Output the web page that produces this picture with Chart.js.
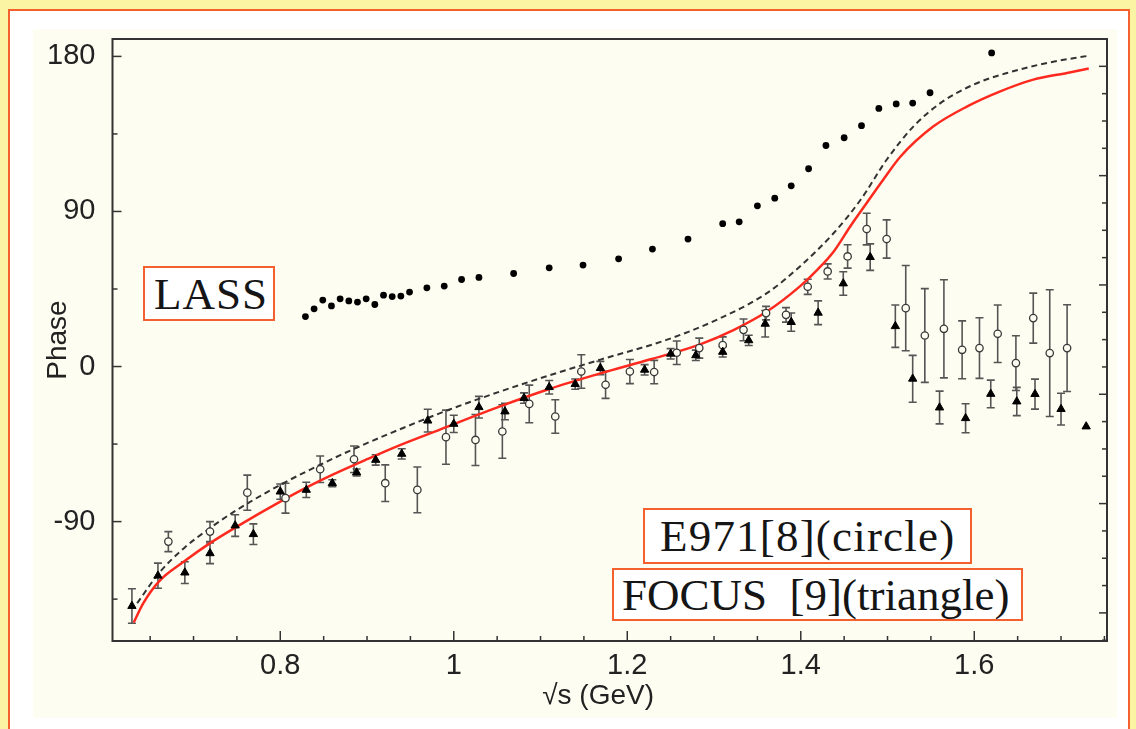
<!DOCTYPE html>
<html>
<head>
<meta charset="utf-8">
<script src="https://cdn.jsdelivr.net/npm/chart.js@4.4.1/dist/chart.umd.min.js"></script>
<style>
  html, body { margin: 0; padding: 0; }
  body { width: 1136px; height: 729px; background: #fbf4a2; position: relative; overflow: hidden; }
  .frame { position: absolute; left: 8px; top: 9px; width: 1122px; height: 740px; border: 2px solid #f4602e; background: #fff; box-sizing: border-box; }
  .panel { position: absolute; left: 33px; top: 29px; width: 1084px; height: 689px; background: #fdfdf1; }
  #phase { position: absolute; left: 0; top: 0; }
  .tag { position: absolute; background: #fff; border: 2px solid #f4602e; box-sizing: border-box;
         font-family: "Liberation Serif", "Times New Roman", serif; font-size: 45px; color: #151515;
         white-space: pre; display: flex; align-items: center; }
</style>
</head>
<body>
<div class="frame"></div>
<div class="panel"><canvas id="phase" width="1084" height="689"></canvas></div>
<div class="tag" style="left:143px; top:266px; width:132px; height:55px; padding-left:9px; letter-spacing:1px;">LASS</div>
<div class="tag" style="left:643px; top:508px; width:329px; height:56px; padding-left:15px; letter-spacing:1.2px;">E971[8](circle)</div>
<div class="tag" style="left:612px; top:568px; width:411px; height:53px; padding-left:8px;">FOCUS  [9](triangle)</div>

<script>
/* global Chart */
(function () {
    'use strict';

    /* ── Data ─────────────────────────────────────────────────────────── */

    const lassX = [0.829, 0.839, 0.849, 0.859, 0.869, 0.879, 0.889, 0.899, 0.909, 0.919, 0.929, 0.939, 0.949,
                   0.969, 0.989, 1.009, 1.029, 1.069, 1.110, 1.149, 1.190, 1.229, 1.270, 1.310, 1.329, 1.350,
                   1.370, 1.389, 1.409, 1.429, 1.450, 1.470, 1.490, 1.510, 1.529, 1.549, 1.620];
    const lassY = [29.0, 33.5, 38.6, 35.2, 39.3, 38.1, 37.4, 39.3, 36.0, 41.4, 40.6, 40.9, 43.2,
                   45.7, 46.7, 50.5, 51.7, 54.0, 57.3, 58.9, 62.5, 68.2, 74.0, 82.9, 84.0, 93.3,
                   97.7, 104.9, 114.8, 128.3, 132.8, 139.8, 149.8, 152.4, 152.9, 158.9, 182.0];

    const e971X   = [0.671, 0.719, 0.762, 0.806, 0.846, 0.885, 0.921, 0.958, 0.991, 1.025, 1.056, 1.087, 1.117,
                     1.147, 1.175, 1.203, 1.231, 1.257, 1.283, 1.310, 1.334, 1.360, 1.383, 1.408, 1.431, 1.454,
                     1.476, 1.499, 1.521, 1.543, 1.565, 1.586, 1.606, 1.627, 1.648, 1.668, 1.687, 1.707];
    const e971Y   = [-101.6, -95.8, -73.2, -76.4, -59.6, -53.8, -67.7, -71.6, -41.0, -42.6, -37.7, -21.7, -29.0,
                     -2.9, -10.6, -2.9, -3.2, 8.0, 10.7, 12.4, 21.3, 31.0, 30.0, 46.3, 55.2, 63.9,
                     79.8, 74.0, 33.9, 18.0, 21.9, 9.7, 10.7, 19.0, 2.0, 28.1, 7.8, 10.7];
    const e971Err = [5.8, 5.8, 10.2, 8.7, 7.7, 7.7, 10.6, 13.3, 15.7, 14.8, 15.5, 10.9, 9.7,
                     9.7, 7.9, 7.0, 6.8, 6.8, 5.8, 4.8, 6.3, 3.9, 4.2, 4.4, 4.4, 6.8,
                     9.2, 11.1, 24.7, 27.2, 28.5, 16.8, 17.6, 16.7, 15.9, 14.5, 36.8, 25.2];

    const focusX   = [0.629, 0.659, 0.690, 0.719, 0.748, 0.769, 0.800, 0.830, 0.860, 0.888, 0.910, 0.940, 0.970,
                      1.000, 1.029, 1.059, 1.081, 1.110, 1.140, 1.169, 1.220, 1.250, 1.279, 1.310, 1.340, 1.359,
                      1.389, 1.420, 1.449, 1.480, 1.509, 1.529, 1.560, 1.590, 1.619, 1.649, 1.670, 1.700, 1.729];
    const focusY   = [-139.0, -121.4, -119.6, -108.4, -92.3, -97.3, -72.6, -71.6, -67.7, -61.5, -54.2, -50.7, -31.4,
                      -33.3, -23.6, -26.1, -18.3, -12.0, -10.2, -0.9, -1.9, 7.4, 6.5, 8.5, 15.2, 24.8,
                      25.8, 31.2, 48.2, 63.5, 23.4, -7.1, -23.8, -30.0, -15.9, -20.3, -16.0, -24.7, -34.8];
    const focusErr = [10, 7.3, 6.3, 6.0, 6.3, 6.0, 4.4, 4.4, 2, 2, 3, 3, 6.6,
                      5, 6.3, 4.8, 3, 3.9, 3, 3.9, 3, 3, 3, 3, 3, 7.7,
                      5.3, 6.9, 6.8, 7.7, 12.3, 13.6, 9.5, 8.4, 8.0, 8.2, 8.7, 9.2, 0];

    // model curves (red solid, black dashed)
    const redX = [0.631, 0.642, 0.660, 0.689, 0.719, 0.750, 0.800, 0.831, 0.861, 0.900, 0.938, 0.984, 1.054, 1.111,
                  1.169, 1.227, 1.284, 1.323, 1.361, 1.399, 1.419, 1.438, 1.457, 1.476, 1.495, 1.515, 1.553,
                  1.592, 1.630, 1.668, 1.707, 1.732];
    const redY = [-148.6, -137.4, -124.8, -113.2, -102.5, -92.9, -78.4, -70.0, -62.6, -53.8, -45.6, -36.6, -23.0, -12.9,
                  -4.0, 4.2, 12.9, 21.3, 31.9, 46.5, 56.1, 66.8, 81.3, 94.9, 108.4, 121.9, 139.4,
                  151.0, 159.7, 166.5, 170.4, 173.0];
    const dashX = [0.635, 0.660, 0.689, 0.719, 0.750, 0.800, 0.846, 0.885, 0.938, 0.996, 1.054, 1.111, 1.169,
                   1.246, 1.303, 1.361, 1.399, 1.438, 1.469, 1.499, 1.530, 1.561, 1.599, 1.638, 1.684, 1.732];
    const dashY = [-137.4, -120.0, -105.4, -93.8, -83.2, -68.7, -57.0, -47.8, -36.4, -24.8, -14.4, -5.0, 4.0,
                   15.6, 27.1, 42.6, 58.1, 77.5, 96.8, 120.0, 139.4, 152.9, 163.6, 170.4, 176.2, 180.4];

    const xTicks  = [0.8, 1, 1.2, 1.4, 1.6];
    const yTicks  = [-90, 0, 90, 180];
    const yMinor  = [-135, -45, 45, 135];
    const rTicks  = [0, 1, 2, 3, 4, 5];   // unlabelled right-hand axis

    /* ── Styling ──────────────────────────────────────────────────────── */

    const CREAM = '#fdfdf1';
    const AXIS  = '#333333';
    const SANS  = '"Liberation Sans", Arial, sans-serif';

    const pts = (xs, ys) => xs.map((v, i) => ({ x: v, y: ys[i] }));

    // pin the axis boxes so the plot area sits where the figure has it
    const fixBox = function (w, h) {
        return function (s) {
            if (w !== null) s.width = w;
            if (h !== null) s.height = h;
            s.paddingTop = 0; s.paddingBottom = 0;
            s.paddingLeft = 0; s.paddingRight = 0;
        };
    };

    const errorBars = {
        id: 'errorBars',
        beforeDatasetsDraw(chart) {
            const { ctx, chartArea: a, scales: { x, y } } = chart;
            ctx.save();
            ctx.beginPath();
            ctx.rect(a.left, a.top, a.right - a.left, a.bottom - a.top);
            ctx.clip();
            ctx.strokeStyle = '#555';
            ctx.lineWidth = 1.6;
            chart.data.datasets.forEach(function (ds) {
                if (!ds.errors) return;
                ds.data.forEach(function (p, i) {
                    const e = ds.errors[i];
                    if (!e) return;
                    const px = x.getPixelForValue(p.x);
                    const hi = y.getPixelForValue(p.y + e);
                    const lo = y.getPixelForValue(p.y - e);
                    ctx.beginPath();
                    ctx.moveTo(px, hi); ctx.lineTo(px, lo);
                    ctx.moveTo(px - 4, hi); ctx.lineTo(px + 4, hi);
                    ctx.moveTo(px - 4, lo); ctx.lineTo(px + 4, lo);
                    ctx.stroke();
                });
            });
            ctx.restore();
        },
    };

    // box frame with inward tick marks
    const frameTicks = {
        id: 'frameTicks',
        afterDraw(chart) {
            const { ctx, chartArea: a, scales: { x, y, y2 } } = chart;
            const seg = function (x1, y1, x2, y2p) {
                ctx.beginPath(); ctx.moveTo(x1, y1); ctx.lineTo(x2, y2p); ctx.stroke();
            };
            ctx.save();
            ctx.strokeStyle = AXIS;
            ctx.lineWidth = 2;
            ctx.strokeRect(a.left, a.top, a.right - a.left, a.bottom - a.top);
            ctx.lineWidth = 1.5;

            xTicks.forEach(function (v) {
                const p = x.getPixelForValue(v);
                seg(p, a.bottom, p, a.bottom - 10);
            });
            for (let k = 13; k <= 35; k++) {
                if (k % 4 === 0) continue;
                const p = x.getPixelForValue(k * 0.05);
                if (p > a.left && p < a.right) seg(p, a.bottom, p, a.bottom - 5);
            }

            yTicks.forEach(function (v) {
                const p = y.getPixelForValue(v);
                seg(a.left, p, a.left + 9, p);
            });
            yMinor.forEach(function (v) {
                const p = y.getPixelForValue(v);
                seg(a.left, p, a.left + 5, p);
            });

            rTicks.forEach(function (v) {
                const p = y2.getPixelForValue(v);
                seg(a.right, p, a.right - 8, p);
            });
            for (let k = -1; k <= 21; k++) {
                if (k % 4 === 0) continue;
                const p = y2.getPixelForValue(k * 0.25);
                if (p > a.top && p < a.bottom) seg(a.right, p, a.right - 5, p);
            }
            ctx.restore();
        },
    };

    /* ── Chart ────────────────────────────────────────────────────────── */

    new Chart(document.getElementById('phase'), {
        type: 'scatter',
        data: {
            datasets: [
                {
                    label: 'FOCUS',
                    data: pts(focusX, focusY),
                    errors: focusErr,
                    pointStyle: 'triangle',
                    pointRadius: 4.8,
                    backgroundColor: '#000',
                    borderColor: '#000',
                    borderWidth: 1,
                },
                {
                    label: 'E971',
                    data: pts(e971X, e971Y),
                    errors: e971Err,
                    pointStyle: 'circle',
                    pointRadius: 3.7,
                    backgroundColor: CREAM,
                    borderColor: '#3a3a3a',
                    borderWidth: 1.3,
                },
                {
                    label: 'LASS',
                    data: pts(lassX, lassY),
                    pointStyle: 'circle',
                    pointRadius: 3.4,
                    backgroundColor: '#000',
                    borderColor: '#000',
                    borderWidth: 0,
                },
                {
                    label: 'model',
                    data: pts(redX, redY),
                    showLine: true,
                    borderColor: '#ff2a1f',
                    borderWidth: 2.5,
                    pointRadius: 0,
                    cubicInterpolationMode: 'monotone',
                },
                {
                    label: 'model (dashed)',
                    data: pts(dashX, dashY),
                    showLine: true,
                    borderColor: '#333',
                    borderWidth: 2,
                    borderDash: [6, 4],
                    pointRadius: 0,
                    cubicInterpolationMode: 'monotone',
                },
            ],
        },
        options: {
            responsive: false,
            animation: false,
            layout: { padding: { top: 10, left: 0, right: 0, bottom: 0 } },
            plugins: {
                legend: { display: false },
                tooltip: { enabled: false },
            },
            scales: {
                x: {
                    type: 'linear',
                    position: 'bottom',
                    min: 0.6066,
                    max: 1.753,
                    afterBuildTicks: function (s) { s.ticks = xTicks.map(function (v) { return { value: v }; }); },
                    afterFit: fixBox(null, 77),
                    grid: { display: false, drawTicks: false },
                    border: { display: false },
                    ticks: {
                        color: '#222',
                        font: { size: 29, family: SANS },
                        padding: 8,
                        maxRotation: 0,
                        callback: function (v) { return String(v); },
                    },
                    title: {
                        display: true,
                        text: '√s (GeV)   ',
                        color: '#222',
                        font: { size: 28, family: SANS },
                        padding: { top: 0, bottom: 5 },
                    },
                },
                y: {
                    type: 'linear',
                    position: 'left',
                    min: -159.3,
                    max: 190.1,
                    afterBuildTicks: function (s) { s.ticks = yTicks.map(function (v) { return { value: v }; }); },
                    afterFit: fixBox(79.5, null),
                    grid: { display: false, drawTicks: false },
                    border: { display: false },
                    ticks: {
                        color: '#222',
                        font: { size: 29, family: SANS },
                        padding: 17,
                        callback: function (v) { return String(v); },
                    },
                    title: {
                        display: true,
                        text: 'Phase',
                        color: '#222',
                        font: { size: 28, family: SANS },
                        padding: { top: 8, bottom: 0 },
                    },
                },
                y2: {
                    type: 'linear',
                    position: 'right',
                    min: -0.257,
                    max: 5.25,
                    afterFit: fixBox(10, null),
                    grid: { display: false, drawTicks: false },
                    border: { display: false },
                    ticks: { display: false },
                },
            },
        },
        plugins: [errorBars, frameTicks],
    });
})();
</script>
</body>
</html>
